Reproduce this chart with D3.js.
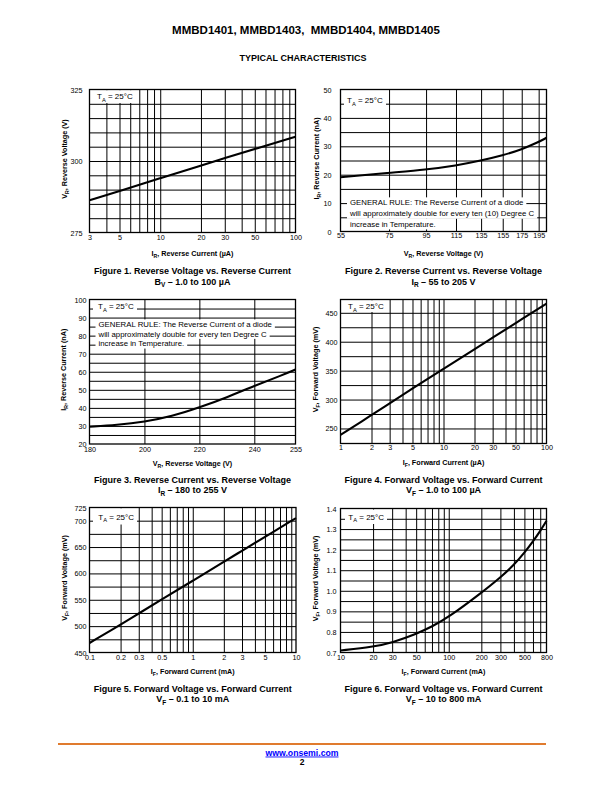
<!DOCTYPE html>
<html><head><meta charset="utf-8">
<script src="https://cdn.jsdelivr.net/npm/d3@7"></script>
<style>
body{margin:0;background:#fff}
svg{display:block}
text{font-family:"Liberation Sans",Arial,Helvetica,sans-serif}
</style>
</head><body>
<svg id="page" width="612" height="792"></svg>
<script>
// ---------------- DATA ----------------
const fig1Current = [3, 5, 10, 20, 30, 50, 100];
const fig1Voltage = [286.3, 289.5, 294, 298.4, 301, 304.2, 308.5];
const fig1XTicks = [3, 5, 10, 20, 30, 50, 100];
const fig1XGrid = [4, 5, 6, 7, 8, 9, 10, 20, 30, 40, 50, 60, 70, 80, 90];
const fig1YTicks = [275, 300, 325];
const fig1YGrid = [280, 285, 290, 295, 300, 305, 310, 315, 320];

const fig2Voltage = [55, 75, 95, 115, 135, 155, 175, 195, 205];
const fig2Current = [19.1, 20.7, 21.8, 23.2, 25, 26.8, 28.9, 31.5, 33];
const fig2XTicks = [55, 75, 95, 115, 135, 155, 175, 195];
const fig2XGrid = [75, 95, 115, 135, 155, 175, 195];
const fig2YTicks = [0, 10, 20, 30, 40, 50];
const fig2YGrid = [5, 10, 15, 20, 25, 30, 35, 40, 45];

const fig3Voltage = [180, 190, 200, 210, 220, 230, 240, 250, 255];
const fig3Current = [29.6, 30.5, 32.2, 35.3, 40.2, 45.8, 52.2, 58, 61.2];
const fig3XTicks = [180, 200, 220, 240, 255];
const fig3XGrid = [200, 220, 240];
const fig3YTicks = [20, 30, 40, 50, 60, 70, 80, 90, 100];
const fig3YGrid = [25, 30, 35, 40, 45, 50, 55, 60, 65, 70, 75, 80, 85, 90, 95];

const fig4Current = [1, 2, 3, 5, 10, 20, 30, 50, 100];
const fig4Voltage = [239, 273, 293.5, 319, 353, 387, 407, 432, 466];
const fig4XTicks = [1, 2, 3, 5, 10, 20, 30, 50, 100];
const fig4XGrid = [2, 3, 4, 5, 6, 7, 8, 9, 10, 20, 30, 40, 50, 60, 70, 80, 90];
const fig4YTicks = [250, 300, 350, 400, 450];
const fig4YGrid = [250, 275, 300, 325, 350, 375, 400, 425, 450];

const fig5Current = [0.1, 0.2, 0.3, 0.5, 1, 2, 3, 5, 10];
const fig5Voltage = [468, 503, 524, 550.5, 586, 622, 643, 669, 705];
const fig5XTicks = [0.1, 0.2, 0.3, 0.5, 1, 2, 3, 5, 10];
const fig5XGrid = [0.2, 0.3, 0.4, 0.5, 0.6, 0.7, 0.8, 0.9, 1, 2, 3, 4, 5, 6, 7, 8, 9];
const fig5YTicks = [450, 500, 550, 600, 650, 700, 725];
const fig5YGrid = [475, 500, 525, 550, 575, 600, 625, 650, 675, 700];

const fig6Current = [10, 20, 30, 50, 70, 100, 200, 300, 400, 500, 600, 700, 800];
const fig6Voltage = [0.71, 0.727, 0.748, 0.79, 0.826, 0.872, 0.99, 1.065, 1.125, 1.185, 1.24, 1.29, 1.34];
const fig6XTicks = [10, 20, 30, 50, 100, 200, 300, 500, 800];
const fig6XGrid = [20, 30, 40, 50, 60, 70, 80, 90, 100, 200, 300, 400, 500, 600, 700];
const fig6YTicks = [0.7, 0.8, 0.9, 1.0, 1.1, 1.2, 1.3, 1.4];
const fig6YGrid = [0.75, 0.8, 0.85, 0.9, 0.95, 1.0, 1.05, 1.1, 1.15, 1.2, 1.25, 1.3, 1.35];

const ruleText2 = ["GENERAL RULE: The Reverse Current of a diode",
                   "will approximately double for every ten (10) Degree C",
                   "increase in Temperature."];
const ruleText3 = ["GENERAL RULE: The Reverse Current of a diode",
                   "will approximately double for every ten Degree C",
                   "increase in Temperature."];

// ---------------- DRAWING ----------------
const svg = d3.select("#page");

function rich(sel, str, size) {
  const parts = str.split(/_(\w)/);
  let prevSub = false;
  parts.forEach((s, i) => {
    if (s === "") return;
    const sub = i % 2 === 1;
    const t = sel.append("tspan").text(s);
    if (sub) { t.attr("font-size", size * 0.72).attr("dy", size * 0.28); }
    else { t.attr("font-size", size); if (prevSub) t.attr("dy", -size * 0.28); }
    prevSub = sub;
  });
}

const fmtG = d3.format("~g");

function drawChart(c) {
  const g = svg.append("g");
  const [L, R, T, B] = c.box;
  const x = (c.xLog ? d3.scaleLog() : d3.scaleLinear()).domain(c.xDomain).range([L, R]);
  const y = d3.scaleLinear().domain(c.yDomain).range([B, T]);

  // grid
  g.append("g").attr("transform", `translate(0,${B})`)
    .call(d3.axisBottom(x).tickValues(c.xGrid).tickSize(-(B - T)).tickFormat(""))
    .call(a => a.select(".domain").remove())
    .call(a => a.selectAll("line").attr("stroke", "#000").attr("stroke-width", 1));
  g.append("g").attr("transform", `translate(${L},0)`)
    .call(d3.axisLeft(y).tickValues(c.yGrid).tickSize(-(R - L)).tickFormat(""))
    .call(a => a.select(".domain").remove())
    .call(a => a.selectAll("line").attr("stroke", "#000").attr("stroke-width", 1));

  const maskG = g.append("g");
  const textG = g.append("g");

  // border
  g.append("rect").attr("x", L).attr("y", T).attr("width", R - L).attr("height", B - T)
    .attr("fill", "none").attr("stroke", "#000").attr("stroke-width", 1.3);

  // curve
  const pts = c.xs.map((v, i) => [v, c.ys[i]]);
  g.append("path").datum(pts)
    .attr("d", d3.line().x(d => x(d[0])).y(d => y(d[1])).curve(d3.curveBasis))
    .attr("fill", "none").attr("stroke", "#000").attr("stroke-width", 2.1);

  // tick labels
  g.append("g").attr("transform", `translate(0,${B})`)
    .call(d3.axisBottom(x).tickValues(c.xTicks).tickSize(0).tickFormat(fmtG))
    .call(a => a.select(".domain").remove())
    .call(a => a.selectAll("text").attr("y", c.xLabOff).attr("dy", "0.35em")
      .attr("font-size", 7.2).attr("fill", "#000")
      .attr("font-family", '"Liberation Sans",Arial,sans-serif'));
  g.append("g").attr("transform", `translate(${L},0)`)
    .call(d3.axisLeft(y).tickValues(c.yTicks).tickSize(0).tickPadding(c.yGap).tickFormat(c.yFmt || fmtG))
    .call(a => a.select(".domain").remove())
    .call(a => a.selectAll("text").attr("dy", "0.35em")
      .attr("font-size", 7.2).attr("fill", "#000")
      .attr("font-family", '"Liberation Sans",Arial,sans-serif'));

  // axis titles
  const xt = g.append("text").attr("x", (L + R) / 2).attr("y", c.xTitleY).attr("dy", "0.35em")
    .attr("text-anchor", "middle").attr("font-weight", "bold").attr("font-size", 7.2);
  rich(xt, c.xTitle, 7.2);
  const yt = g.append("text").attr("transform", `translate(${c.yTitleX},${(T + B) / 2 - 2}) rotate(-90)`)
    .attr("dy", "0.35em").attr("text-anchor", "middle").attr("font-weight", "bold").attr("font-size", 7.2);
  rich(yt, c.yTitle, 7.2);

  // captions
  const c1 = g.append("text").attr("x", (L + R) / 2).attr("y", c.capY[0]).attr("dy", "0.35em")
    .attr("text-anchor", "middle").attr("font-weight", "bold").attr("font-size", 9);
  rich(c1, c.caption, 9);
  const c2 = g.append("text").attr("x", (L + R) / 2).attr("y", c.capY[1]).attr("dy", "0.35em")
    .attr("text-anchor", "middle").attr("font-weight", "bold").attr("font-size", 9);
  rich(c2, c.subtitle, 9);

  // T_A label with white mask
  const m = c.taMask;
  maskG.append("rect").attr("x", m[0]).attr("y", m[2]).attr("width", m[1] - m[0]).attr("height", m[3] - m[2]).attr("fill", "#fff");
  const ta = textG.append("text").attr("x", c.taX).attr("y", c.taY).attr("dy", "0.35em").attr("font-size", 8);
  rich(ta, "T_A = 25°C", 8);

  // general rule text
  if (c.rule) {
    c.rule.lines.forEach((s, i) => {
      const yy = c.rule.y0 + i * c.rule.lh;
      const t = textG.append("text").attr("x", c.rule.x).attr("y", yy).attr("dy", "0.35em")
        .attr("font-size", 7.8).text(s);
      const w = t.node().getComputedTextLength();
      maskG.append("rect").attr("x", c.rule.x - 3).attr("y", yy - c.rule.lh / 2)
        .attr("width", w + 6).attr("height", c.rule.lh).attr("fill", "#fff");
    });
  }
}

// header
svg.append("text").attr("x", 306).attr("y", 30).attr("dy", "0.35em").attr("text-anchor", "middle")
  .attr("font-weight", "bold").attr("font-size", 11.5).attr("xml:space", "preserve")
  .text("MMBD1401, MMBD1403,  MMBD1404, MMBD1405");
svg.append("text").attr("x", 303).attr("y", 58).attr("dy", "0.35em").attr("text-anchor", "middle")
  .attr("font-weight", "bold").attr("font-size", 9).text("TYPICAL CHARACTERISTICS");

drawChart({
  box: [89.5, 295.5, 89.5, 232.5], xLog: true, xDomain: [3, 100], yDomain: [275, 325],
  xs: fig1Current, ys: fig1Voltage, xTicks: fig1XTicks, xGrid: fig1XGrid, yTicks: fig1YTicks, yGrid: fig1YGrid,
  xLabOff: 5, yGap: 7, xTitleY: 253, yTitleX: 64, capY: [270.5, 281.5],
  xTitle: "I_R, Reverse Current (µA)", yTitle: "V_R, Reverse Voltage (V)",
  caption: "Figure 1. Reverse Voltage vs. Reverse Current", subtitle: "B_V – 1.0 to 100 µA",
  taX: 97, taY: 96.5, taMask: [92, 138, 90.2, 103]
});
drawChart({
  box: [340.5, 546.5, 89.5, 231.5], xLog: true, xDomain: [55, 205], yDomain: [0, 50],
  xs: fig2Voltage, ys: fig2Current, xTicks: fig2XTicks, xGrid: fig2XGrid, yTicks: fig2YTicks, yGrid: fig2YGrid,
  xLabOff: 3.8, yGap: 9, xTitleY: 253, yTitleX: 316, capY: [270.5, 281.5],
  xTitle: "V_R, Reverse Voltage (V)", yTitle: "I_R, Reverse Current (nA)",
  caption: "Figure 2. Reverse Current vs. Reverse Voltage", subtitle: "I_R – 55 to 205 V",
  taX: 347, taY: 100.5, taMask: [344, 386, 94, 107.5],
  rule: { x: 350, y0: 202.7, lh: 10.7, lines: ruleText2 }
});
drawChart({
  box: [89.5, 295.5, 299.5, 444], xLog: false, xDomain: [180, 255], yDomain: [20, 100],
  xs: fig3Voltage, ys: fig3Current, xTicks: fig3XTicks, xGrid: fig3XGrid, yTicks: fig3YTicks, yGrid: fig3YGrid,
  xLabOff: 5.5, yGap: 3, xTitleY: 463, yTitleX: 63, capY: [479.5, 490],
  xTitle: "V_R, Reverse Voltage (V)", yTitle: "I_R, Reverse Current (nA)",
  caption: "Figure 3. Reverse Current vs. Reverse Voltage", subtitle: "I_R – 180 to 255 V",
  taX: 98, taY: 306.5, taMask: [93, 137, 300.3, 313],
  rule: { x: 98.5, y0: 324.3, lh: 9.7, lines: ruleText3 }
});
drawChart({
  box: [340.5, 546.5, 299.5, 443.5], xLog: true, xDomain: [1, 100], yDomain: [224, 473],
  xs: fig4Current, ys: fig4Voltage, xTicks: fig4XTicks, xGrid: fig4XGrid, yTicks: fig4YTicks, yGrid: fig4YGrid,
  xLabOff: 3.5, yGap: 3, xTitleY: 462.7, yTitleX: 315, capY: [479.5, 490],
  xTitle: "I_F, Forward Current (µA)", yTitle: "V_F, Forward Voltage (mV)",
  caption: "Figure 4. Forward Voltage vs. Forward Current", subtitle: "V_F – 1.0 to 100 µA",
  taX: 348, taY: 306.5, taMask: [343, 389, 300.3, 312]
});
drawChart({
  box: [89.5, 296, 507.5, 652.5], xLog: true, xDomain: [0.1, 10], yDomain: [450, 725],
  xs: fig5Current, ys: fig5Voltage, xTicks: fig5XTicks, xGrid: fig5XGrid, yTicks: fig5YTicks, yGrid: fig5YGrid,
  xLabOff: 5, yGap: 3, xTitleY: 671.5, yTitleX: 64, capY: [688.5, 699],
  xTitle: "I_F, Forward Current (mA)", yTitle: "V_F, Forward Voltage (mV)",
  caption: "Figure 5. Forward Voltage vs. Forward Current", subtitle: "V_F – 0.1 to 10 mA",
  taX: 98.3, taY: 517.3, taMask: [93, 137, 508.3, 524.5]
});
drawChart({
  box: [340.5, 546.5, 508.5, 652.5], xLog: true, xDomain: [10, 800], yDomain: [0.7, 1.4],
  xs: fig6Current, ys: fig6Voltage, xTicks: fig6XTicks, xGrid: fig6XGrid, yTicks: fig6YTicks, yGrid: fig6YGrid,
  xLabOff: 4.6, yGap: 4, xTitleY: 671.5, yTitleX: 315, capY: [688.5, 699], yFmt: d3.format(".1f"),
  xTitle: "I_F, Forward Current (mA)", yTitle: "V_F, Forward Voltage (mV)",
  caption: "Figure 6. Forward Voltage vs. Forward Current", subtitle: "V_F – 10 to 800 mA",
  taX: 348.3, taY: 517.3, taMask: [345, 387, 509.5, 524]
});

// footer
svg.append("line").attr("x1", 58).attr("x2", 546).attr("y1", 744).attr("y2", 744)
  .attr("stroke", "#e07b2e").attr("stroke-width", 2.2);
svg.append("text").attr("x", 302).attr("y", 752.5).attr("dy", "0.35em").attr("text-anchor", "middle")
  .attr("font-weight", "bold").attr("font-size", 8.7).attr("fill", "#0000ff")
  .attr("text-decoration", "underline").text("www.onsemi.com");
svg.append("text").attr("x", 302).attr("y", 762.5).attr("dy", "0.35em").attr("text-anchor", "middle")
  .attr("font-weight", "bold").attr("font-size", 8.5).text("2");
</script>
</body></html>
